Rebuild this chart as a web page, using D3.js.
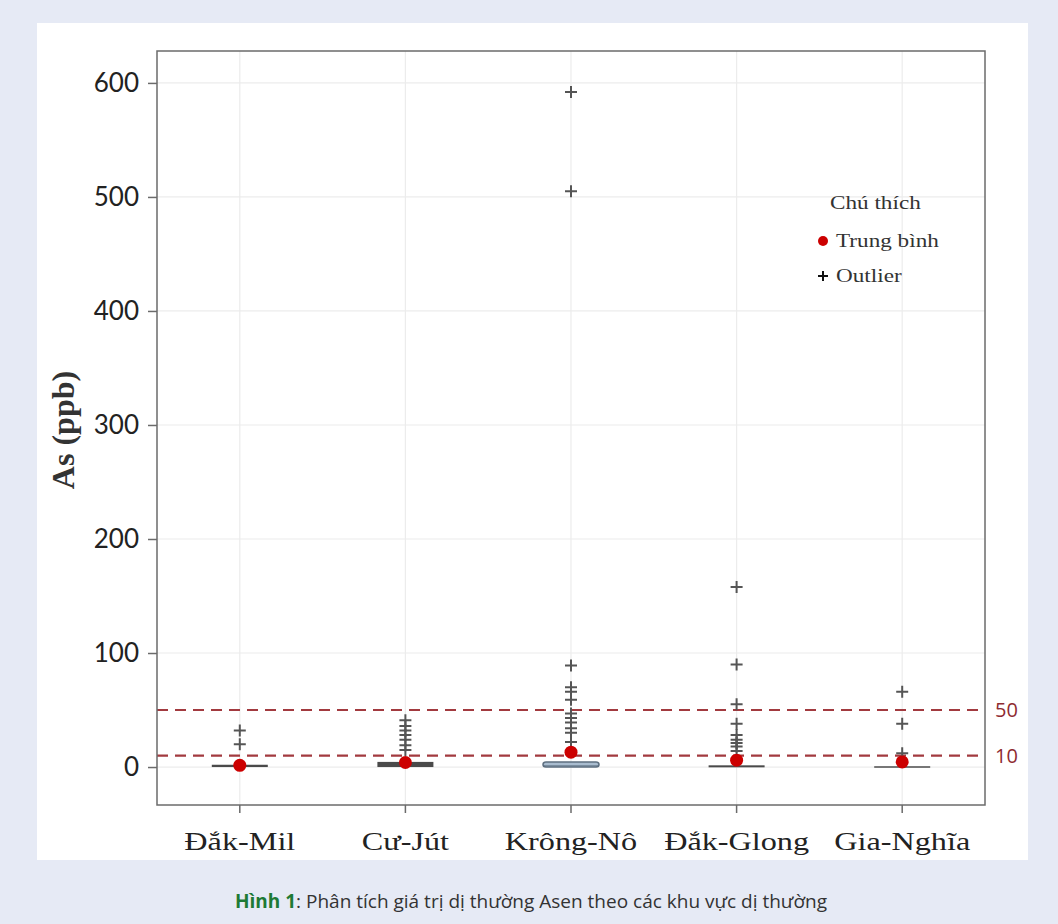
<!DOCTYPE html>
<html>
<head>
<meta charset="utf-8">
<script src="https://cdn.jsdelivr.net/npm/d3@7"></script>
<style>
  html, body { margin: 0; padding: 0; background: #e6eaf5; }
  svg { display: block; }
</style>
</head>
<body>
<svg id="chart" width="1058" height="924"></svg>
<script>
  // values (ppb)
  var regions = ['Đắk-Mil', 'Cư-Jút', 'Krông-Nô', 'Đắk-Glong', 'Gia-Nghĩa'];
  var q1 = [0, 0, 0, 0, 0];
  var median = [0.5, 1, 1, 0.5, 0];
  var q3 = [2, 4.5, 3.5, 1.5, 0.5];
  var means = [1.5, 4, 13, 6, 4.5];
  var outliers = [
    [20, 32],
    [15, 19, 24, 28, 32, 36, 41],
    [22, 30, 34, 39, 43, 47, 59, 66, 70, 89, 505, 592],
    [14, 18, 21, 24, 28, 38, 55, 90, 158],
    [12, 38, 66]
  ];
  var yTicks = [0, 100, 200, 300, 400, 500, 600];
  var limits = [10, 50];

  var svg = d3.select('#chart');

  // white card
  svg.append('rect')
    .attr('x', 37).attr('y', 23).attr('width', 991).attr('height', 837)
    .attr('fill', '#fff');

  var margin = { left: 157, top: 51, right: 985, bottom: 805 };

  var x = d3.scaleBand().domain(regions).range([margin.left, margin.right]).padding(0);
  var y = d3.scaleLinear().domain([-33.3, 628]).range([margin.bottom, margin.top]);

  var g = svg.append('g');

  // grid
  g.selectAll('.hgrid').data(yTicks).enter().append('line')
    .attr('x1', margin.left).attr('x2', margin.right)
    .attr('y1', function (d) { return y(d); }).attr('y2', function (d) { return y(d); })
    .attr('stroke', '#ececec').attr('stroke-width', 1.2);
  g.selectAll('.vgrid').data(regions).enter().append('line')
    .attr('y1', margin.top).attr('y2', margin.bottom)
    .attr('x1', function (d) { return x(d) + x.bandwidth() / 2; })
    .attr('x2', function (d) { return x(d) + x.bandwidth() / 2; })
    .attr('stroke', '#ececec').attr('stroke-width', 1.2);

  // limit lines
  g.selectAll('.limit').data(limits).enter().append('line')
    .attr('x1', margin.left).attr('x2', margin.right)
    .attr('y1', function (d) { return y(d); }).attr('y2', function (d) { return y(d); })
    .attr('stroke', '#a23a3f').attr('stroke-width', 2.2)
    .attr('stroke-dasharray', '11,7');
  g.selectAll('.limitLabel').data(limits).enter().append('text')
    .attr('x', 995).attr('y', function (d) { return y(d) + 7; })
    .attr('font-family', 'Open Sans, sans-serif').attr('font-size', 20)
    .attr('fill', '#8e2b31')
    .text(function (d) { return d; });

  var boxW = 56;

  // outliers (plus markers)
  regions.forEach(function (r, i) {
    var cx = x(r) + x.bandwidth() / 2;
    outliers[i].forEach(function (v) {
      g.append('path')
        .attr('d', 'M' + (cx - 6) + ',' + y(v) + 'h12M' + cx + ',' + (y(v) - 6) + 'v12')
        .attr('stroke', '#555').attr('stroke-width', 2).attr('fill', 'none');
    });
  });

  // boxes
  regions.forEach(function (r, i) {
    var cx = x(r) + x.bandwidth() / 2;
    var top = y(q3[i]);
    var h = Math.max(y(q1[i]) - top, 2);
    if (i === 2) {
      g.append('rect')
        .attr('x', cx - boxW / 2).attr('y', top - 1).attr('width', boxW).attr('height', h + 1)
        .attr('rx', 3)
        .attr('fill', '#a9bccf').attr('stroke', '#5d6f80').attr('stroke-width', 1.5);
      g.append('line')
        .attr('x1', cx - boxW / 2).attr('x2', cx + boxW / 2)
        .attr('y1', y(median[i])).attr('y2', y(median[i]))
        .attr('stroke', '#5d6f80').attr('stroke-width', 1);
    } else if (i === 4) {
      g.append('line')
        .attr('x1', cx - boxW / 2).attr('x2', cx + boxW / 2)
        .attr('y1', y(q1[i])).attr('y2', y(q1[i]))
        .attr('stroke', '#777').attr('stroke-width', 2);
    } else {
      g.append('rect')
        .attr('x', cx - boxW / 2).attr('y', top).attr('width', boxW).attr('height', h)
        .attr('fill', '#4a4a4a');
    }
  });

  // means
  regions.forEach(function (r, i) {
    var cx = x(r) + x.bandwidth() / 2;
    g.append('circle')
      .attr('cx', cx).attr('cy', y(means[i])).attr('r', 6.5)
      .attr('fill', '#cc0000');
  });

  // frame
  svg.append('rect')
    .attr('x', margin.left).attr('y', margin.top)
    .attr('width', margin.right - margin.left).attr('height', margin.bottom - margin.top)
    .attr('fill', 'none').attr('stroke', '#6b6b6b').attr('stroke-width', 1.5);

  // y axis
  var yAxis = svg.append('g')
    .attr('transform', 'translate(' + margin.left + ',0)')
    .call(d3.axisLeft(y).tickValues(yTicks).tickSize(9).tickPadding(9));
  yAxis.select('.domain').remove();
  yAxis.selectAll('line').attr('stroke', '#6b6b6b').attr('stroke-width', 1.5);
  yAxis.selectAll('text')
    .attr('font-family', 'Lato, sans-serif').attr('font-size', 26).attr('fill', '#222');

  // x axis (the source figure is stretched horizontally, so the labels are widened)
  var xAxis = svg.append('g')
    .attr('transform', 'translate(0,' + margin.bottom + ')')
    .call(d3.axisBottom(x).tickSize(8).tickPadding(19));
  xAxis.select('.domain').remove();
  xAxis.selectAll('line').attr('stroke', '#6b6b6b').attr('stroke-width', 1.5);
  xAxis.selectAll('text')
    .attr('font-family', 'Liberation Serif, serif').attr('font-size', 26).attr('fill', '#222')
    .attr('transform', 'scale(1.24,1)');

  // axis title
  svg.append('text')
    .attr('transform', 'translate(74,' + 430 + ') rotate(-90)')
    .attr('text-anchor', 'middle')
    .attr('font-family', 'Liberation Serif, serif').attr('font-weight', 'bold')
    .attr('font-size', 32).attr('fill', '#333')
    .text('As (ppb)');

  // legend
  var leg = svg.append('g').attr('font-family', 'Liberation Serif, serif').attr('fill', '#333');
  leg.append('text').attr('transform', 'translate(830,209) scale(1.22,1)').attr('font-size', 19).text('Chú thích');
  leg.append('circle').attr('cx', 823).attr('cy', 241).attr('r', 5).attr('fill', '#cc0000');
  leg.append('text').attr('transform', 'translate(836,247) scale(1.22,1)').attr('font-size', 19).text('Trung bình');
  leg.append('path').attr('d', 'M818,276h10M823,271v10').attr('stroke', '#111').attr('stroke-width', 2);
  leg.append('text').attr('transform', 'translate(836,282) scale(1.22,1)').attr('font-size', 19).text('Outlier');

  // caption
  var cap = svg.append('text')
    .attr('x', 531).attr('y', 908).attr('text-anchor', 'middle')
    .attr('font-family', 'Open Sans, sans-serif').attr('font-size', 19).attr('fill', '#333');
  cap.append('tspan').attr('font-weight', 'bold').attr('fill', '#1e7a35').text('Hình 1');
  cap.append('tspan').text(': Phân tích giá trị dị thường Asen theo các khu vực dị thường');
</script>
</body>
</html>
